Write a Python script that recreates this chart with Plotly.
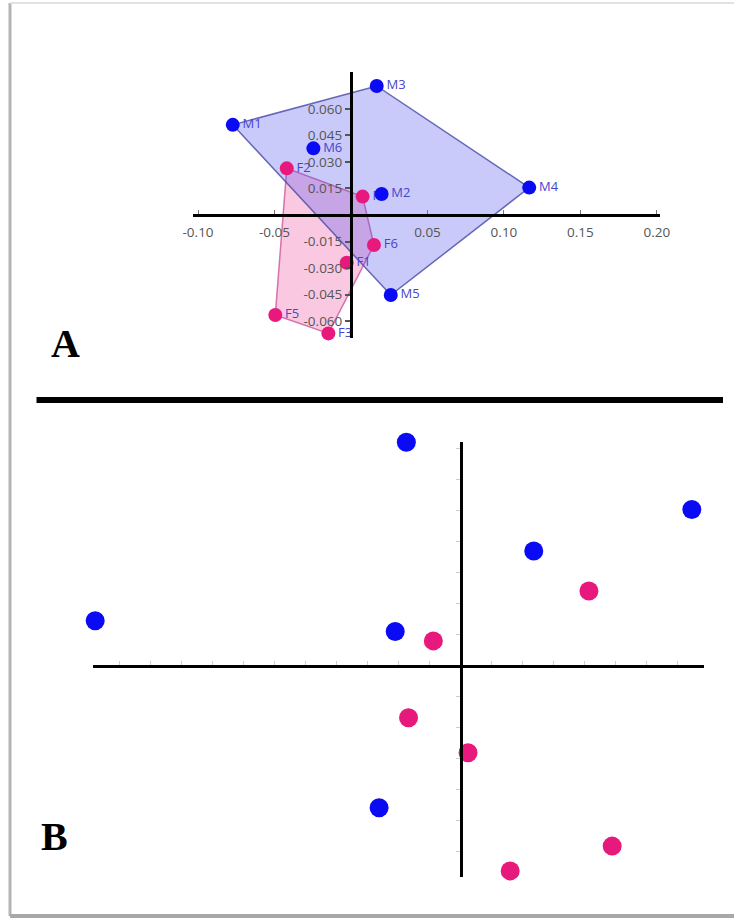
import plotly.graph_objects as go

W, H = 734, 923

# ---------------- Panel A data ----------------
male_labels = ["M1", "M2", "M3", "M4", "M5", "M6"]
male_x = [-0.0773, 0.0200, 0.0168, 0.1165, 0.0260, -0.0246]
male_y = [0.0510, 0.0119, 0.0730, 0.0155, -0.0453, 0.0377]

female_labels = ["F1", "F2", "F3", "F4", "F5", "F6"]
female_x = [-0.0028, -0.0420, -0.0148, 0.0076, -0.0495, 0.0150]
female_y = [-0.0270, 0.0264, -0.0670, 0.0104, -0.0566, -0.0170]

a_xticks = [-0.10, -0.05, 0.05, 0.10, 0.15, 0.20]
a_xticktext = ["-0.10", "-0.05", "0.05", "0.10", "0.15", "0.20"]
a_yticks = [0.060, 0.045, 0.030, 0.015, -0.015, -0.030, -0.045, -0.060]
a_yticktext = ["0.060", "0.045", "0.030", "0.015", "-0.015", "-0.030", "-0.045", "-0.060"]

# ---------------- Panel B data ----------------
b_male_x = [-1.76, 7.45, 2.35, -11.80, -2.12, -2.64]
b_male_y = [7.22, 5.05, 3.71, 1.46, 1.11, -4.57]
b_female_x = [4.13, -0.89, -1.69, 0.23, 4.88, 1.59]
b_female_y = [2.42, 0.81, -1.67, -2.80, -5.81, -6.61]
b_xticks = [v for v in range(-11, 8) if v != 0]
b_yticks = [v for v in range(-6, 8) if v != 0]

BLUE = "#0a0af5"
PINK = "#e8197d"
LABEL = "rgb(70,70,205)"


def hull(xs, ys):
    pts = sorted(set(zip(xs, ys)))
    def cross(o, a, b):
        return (a[0] - o[0]) * (b[1] - o[1]) - (a[1] - o[1]) * (b[0] - o[0])
    lower, upper = [], []
    for p in pts:
        while len(lower) >= 2 and cross(lower[-2], lower[-1], p) <= 0:
            lower.pop()
        lower.append(p)
    for p in reversed(pts):
        while len(upper) >= 2 and cross(upper[-2], upper[-1], p) <= 0:
            upper.pop()
        upper.append(p)
    h = lower[:-1] + upper[:-1]
    h.append(h[0])
    return [p[0] for p in h], [p[1] for p in h]


fig = go.Figure()

fx, fy = hull(female_x, female_y)
mx, my = hull(male_x, male_y)

fig.add_trace(go.Scatter(x=fx, y=fy, mode="lines", fill="toself",
                         fillcolor="rgba(240,100,170,0.35)",
                         line=dict(color="rgba(205,95,160,0.85)", width=1.5),
                         hoverinfo="skip", xaxis="x", yaxis="y"))
fig.add_trace(go.Scatter(x=mx, y=my, mode="lines", fill="toself",
                         fillcolor="rgba(80,80,240,0.30)",
                         line=dict(color="rgba(80,80,170,0.85)", width=1.5),
                         hoverinfo="skip", xaxis="x", yaxis="y"))

labfont = dict(family="Open Sans", size=13, color=LABEL)
fig.add_trace(go.Scatter(x=female_x, y=female_y, mode="markers+text",
                         text=female_labels, textposition="middle right",
                         textfont=labfont,
                         marker=dict(size=14, color=PINK),
                         cliponaxis=False, xaxis="x", yaxis="y"))
fig.add_trace(go.Scatter(x=male_x, y=male_y, mode="markers+text",
                         text=male_labels, textposition="middle right",
                         textfont=labfont,
                         marker=dict(size=14, color=BLUE),
                         cliponaxis=False, xaxis="x", yaxis="y"))

# Panel B
fig.add_trace(go.Scatter(x=b_male_x, y=b_male_y, mode="markers",
                         marker=dict(size=19, color=BLUE),
                         cliponaxis=False, xaxis="x2", yaxis="y2"))
fig.add_trace(go.Scatter(x=b_female_x, y=b_female_y, mode="markers",
                         marker=dict(size=19, color=PINK),
                         cliponaxis=False, xaxis="x2", yaxis="y2"))


def px_x(p):
    return p / W


def px_y(p):
    return 1 - p / H


tickfont = dict(family="Open Sans", size=13.5, color="#555555")

fig.update_layout(
    template="none",
    width=W, height=H,
    margin=dict(l=0, r=0, t=0, b=0, autoexpand=False),
    paper_bgcolor="white", plot_bgcolor="rgba(0,0,0,0)",
    showlegend=False,
    xaxis=dict(domain=[px_x(193), px_x(660)], range=[-0.1033, 0.202],
               anchor="free", position=px_y(215), automargin=False,
               showline=True, linecolor="black", linewidth=3,
               showgrid=False, zeroline=False,
               tickmode="array", tickvals=a_xticks, ticktext=a_xticktext,
               ticks="inside", ticklen=4, tickcolor="#777", tickwidth=1,
               tickfont=tickfont, ticklabelstandoff=4),
    yaxis=dict(domain=[px_y(338), px_y(72)], range=[-0.0696, 0.0809],
               anchor="free", position=px_x(351), automargin=False,
               showline=True, linecolor="black", linewidth=3,
               showgrid=False, zeroline=False,
               tickmode="array", tickvals=a_yticks, ticktext=a_yticktext,
               ticks="outside", ticklen=5, tickcolor="#555", tickwidth=1.5,
               tickfont=tickfont),
    xaxis2=dict(domain=[px_x(92.7), px_x(703.6)], range=[-11.88, 7.83],
                anchor="free", position=px_y(666), automargin=False,
                showline=True, linecolor="black", linewidth=3,
                showgrid=False, zeroline=False,
                tickmode="array", tickvals=b_xticks, showticklabels=False,
                ticks="inside", ticklen=4, tickcolor="#cccccc", tickwidth=1),
    yaxis2=dict(domain=[px_y(876.7), px_y(441.7)], range=[-6.797, 7.235],
                anchor="free", position=px_x(461), automargin=False,
                showline=True, linecolor="black", linewidth=3,
                showgrid=False, zeroline=False,
                tickmode="array", tickvals=b_yticks, showticklabels=False,
                ticks="outside", ticklen=4, tickcolor="#cccccc", tickwidth=1),
)

# frame and separator
fig.add_shape(type="line", xref="paper", yref="paper",
              x0=px_x(10), x1=px_x(10), y0=px_y(3), y1=px_y(916),
              line=dict(color="#b4b4b4", width=3))
fig.add_shape(type="line", xref="paper", yref="paper",
              x0=px_x(10), x1=1.0, y0=px_y(3), y1=px_y(3),
              line=dict(color="#e2e2e2", width=2))
fig.add_shape(type="line", xref="paper", yref="paper",
              x0=px_x(10), x1=1.0, y0=px_y(916), y1=px_y(916),
              line=dict(color="#a8a8a8", width=4))
fig.add_shape(type="line", xref="paper", yref="paper",
              x0=px_x(36.5), x1=px_x(723), y0=px_y(400), y1=px_y(400),
              line=dict(color="black", width=6))

panel_font = dict(family="Liberation Serif", size=40, color="black")
fig.add_annotation(text="<b>A</b>", xref="paper", yref="paper",
                   x=px_x(65), y=px_y(343), xanchor="center", yanchor="middle",
                   showarrow=False, font=panel_font)
fig.add_annotation(text="<b>B</b>", xref="paper", yref="paper",
                   x=px_x(54), y=px_y(836), xanchor="center", yanchor="middle",
                   showarrow=False, font=panel_font)

fig.write_html("out.html")
